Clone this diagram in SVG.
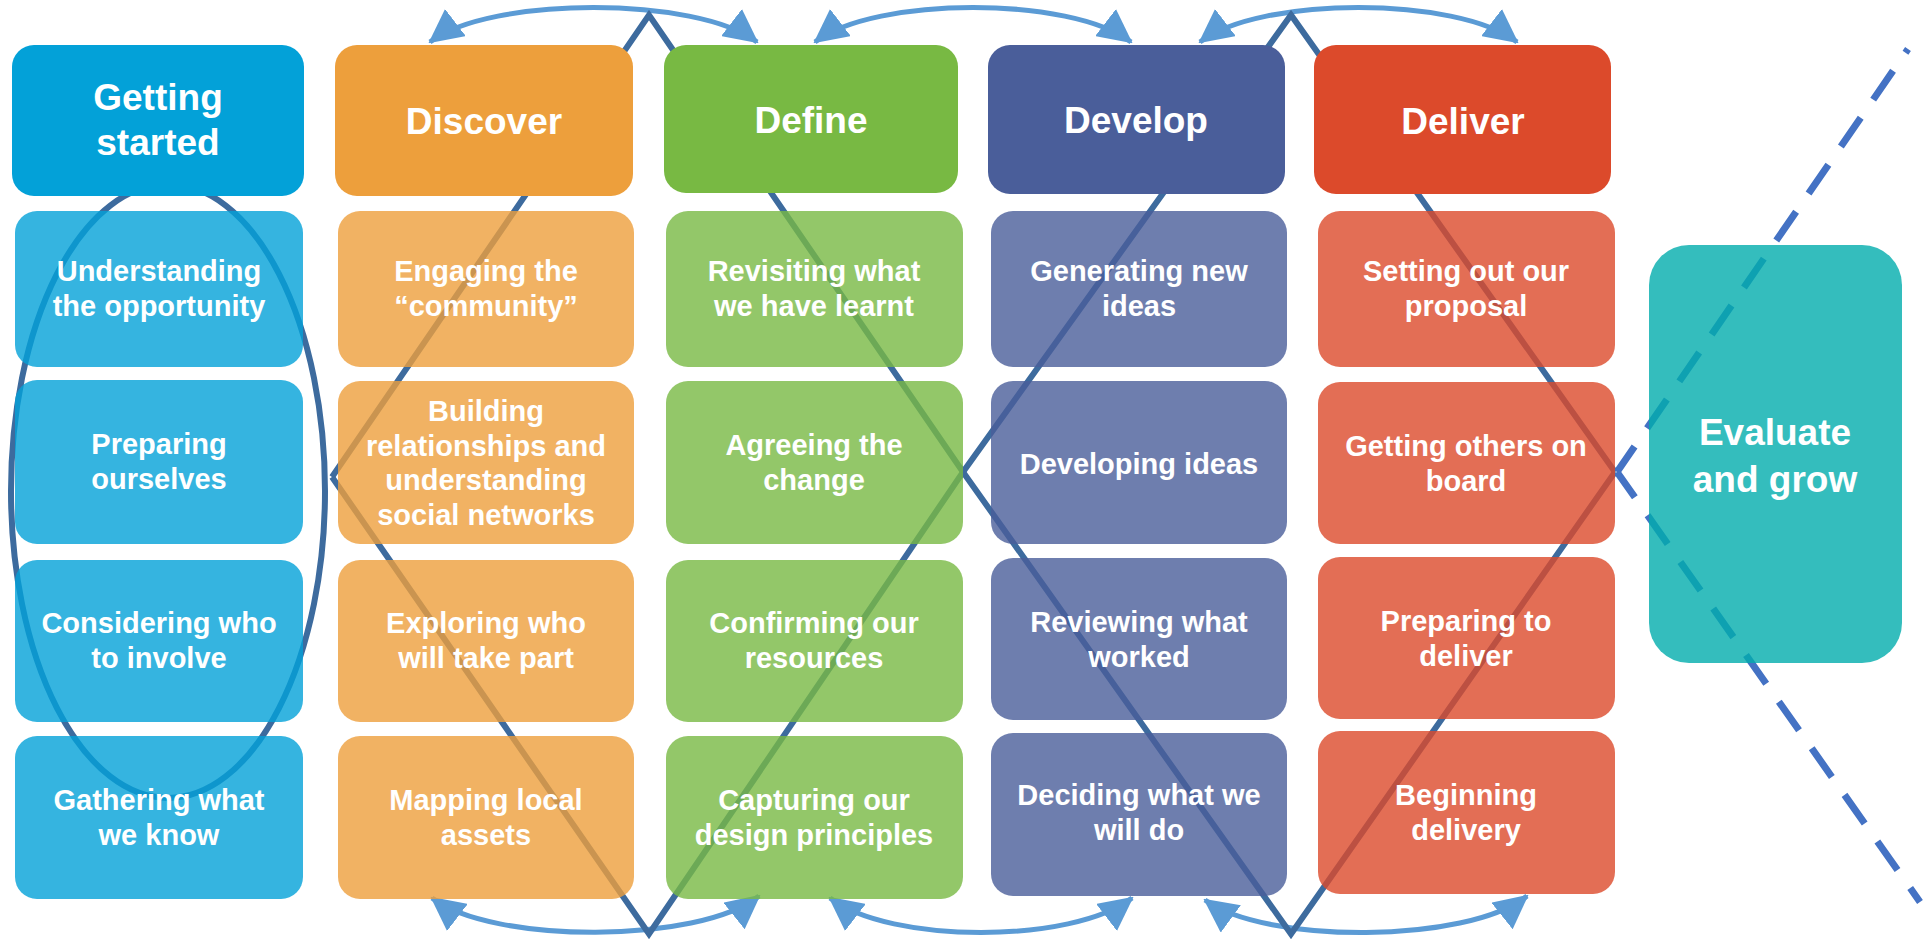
<svg xmlns="http://www.w3.org/2000/svg" width="1924" height="943" viewBox="0 0 1924 943">
<defs>
<marker id="ah" markerUnits="userSpaceOnUse" markerWidth="34" markerHeight="34" viewBox="0 0 34 34" refX="32" refY="17" orient="auto-start-reverse">
<path d="M0,0 L34,17 L0,34 z" fill="#5b9bd5"/>
</marker>
</defs>
<style>
.t{font-family:"Liberation Sans",Arial,sans-serif;font-weight:bold;fill:#ffffff;text-anchor:middle}
.s{font-size:29px}
.h{font-size:37px}
.arr{fill:none;stroke:#5b9bd5;stroke-width:5;marker-start:url(#ah);marker-end:url(#ah)}
.zz{fill:none;stroke:#3d6b9e;stroke-width:6;stroke-linejoin:miter}
.dash{fill:none;stroke:#4472c4;stroke-width:7;stroke-dasharray:35 22;stroke-dashoffset:4}
.gs{fill:#03a1d8}.ds{fill:#ed9f3c}.df{fill:#78b943}.dv{fill:#4a5e9a}.dl{fill:#dc4a2b}
.sub{opacity:0.8}
</style>
<rect width="1924" height="943" fill="#ffffff"/>
<g id="connectors">
<path class="arr" d="M430,42 C490,-4 697,-4 757,42"/>
<path class="arr" d="M815,42 C875,-4 1071,-4 1131,42"/>
<path class="arr" d="M1200,42 C1260,-4 1457,-4 1517,42"/>
<path class="arr" d="M432,898 C492,944 699,944 759,896"/>
<path class="arr" d="M830,898 C890,944 1072,944 1132,898"/>
<path class="arr" d="M1205,900 C1265,944 1467,944 1527,896"/>
<ellipse class="zz" cx="168" cy="491" rx="157" ry="307"/>
<polyline class="zz" points="332,477 649,15 963,472 1291,15 1615,472"/>
<polyline class="zz" points="332,477 649,934 963,472 1291,934 1615,472"/>
<polyline class="dash" points="1617,472 1908,49"/>
<polyline class="dash" points="1617,472 1920,902"/>
</g>
<g id="getting-started">
<rect class="gs" x="12" y="45" width="292" height="151" rx="22"/>
<text class="t h" x="158"><tspan x="158" y="110">Getting</tspan><tspan x="158" y="155">started</tspan></text>
</g>
<g id="understanding-opportunity">
<rect class="gs sub" x="15" y="211" width="288" height="156" rx="22"/>
<text class="t s"><tspan x="159" y="281">Understanding</tspan><tspan x="159" y="316">the opportunity</tspan></text>
</g>
<g id="preparing-ourselves">
<rect class="gs sub" x="15" y="380" width="288" height="164" rx="22"/>
<text class="t s"><tspan x="159" y="454">Preparing</tspan><tspan x="159" y="489">ourselves</tspan></text>
</g>
<g id="considering-who">
<rect class="gs sub" x="15" y="560" width="288" height="162" rx="22"/>
<text class="t s"><tspan x="159" y="633">Considering who</tspan><tspan x="159" y="668">to involve</tspan></text>
</g>
<g id="gathering">
<rect class="gs sub" x="15" y="736" width="288" height="163" rx="22"/>
<text class="t s"><tspan x="159" y="810">Gathering what</tspan><tspan x="159" y="845">we know</tspan></text>
</g>
<g id="discover">
<rect class="ds" x="335" y="45" width="298" height="151" rx="22"/>
<text class="t h" x="484" y="134">Discover</text>
</g>
<g id="engaging">
<rect class="ds sub" x="338" y="211" width="296" height="156" rx="22"/>
<text class="t s"><tspan x="486" y="281">Engaging the</tspan><tspan x="486" y="316">“community”</tspan></text>
</g>
<g id="building">
<rect class="ds sub" x="338" y="381" width="296" height="163" rx="22"/>
<text class="t s"><tspan x="486" y="421">Building</tspan><tspan x="486" y="456">relationships and</tspan><tspan x="486" y="490">understanding</tspan><tspan x="486" y="525">social networks</tspan></text>
</g>
<g id="exploring">
<rect class="ds sub" x="338" y="560" width="296" height="162" rx="22"/>
<text class="t s"><tspan x="486" y="633">Exploring who</tspan><tspan x="486" y="668">will take part</tspan></text>
</g>
<g id="mapping">
<rect class="ds sub" x="338" y="736" width="296" height="163" rx="22"/>
<text class="t s"><tspan x="486" y="810">Mapping local</tspan><tspan x="486" y="845">assets</tspan></text>
</g>
<g id="define">
<rect class="df" x="664" y="45" width="294" height="148" rx="22"/>
<text class="t h" x="811" y="133">Define</text>
</g>
<g id="revisiting">
<rect class="df sub" x="666" y="211" width="297" height="156" rx="22"/>
<text class="t s"><tspan x="814" y="281">Revisiting what</tspan><tspan x="814" y="316">we have learnt</tspan></text>
</g>
<g id="agreeing">
<rect class="df sub" x="666" y="381" width="297" height="163" rx="22"/>
<text class="t s"><tspan x="814" y="455">Agreeing the</tspan><tspan x="814" y="490">change</tspan></text>
</g>
<g id="confirming">
<rect class="df sub" x="666" y="560" width="297" height="162" rx="22"/>
<text class="t s"><tspan x="814" y="633">Confirming our</tspan><tspan x="814" y="668">resources</tspan></text>
</g>
<g id="capturing">
<rect class="df sub" x="666" y="736" width="297" height="163" rx="22"/>
<text class="t s"><tspan x="814" y="810">Capturing our</tspan><tspan x="814" y="845">design principles</tspan></text>
</g>
<g id="develop">
<rect class="dv" x="988" y="45" width="297" height="149" rx="22"/>
<text class="t h" x="1136" y="133">Develop</text>
</g>
<g id="generating">
<rect class="dv sub" x="991" y="211" width="296" height="156" rx="22"/>
<text class="t s"><tspan x="1139" y="281">Generating new</tspan><tspan x="1139" y="316">ideas</tspan></text>
</g>
<g id="developing-ideas">
<rect class="dv sub" x="991" y="381" width="296" height="163" rx="22"/>
<text class="t s" x="1139" y="474">Developing ideas</text>
</g>
<g id="reviewing">
<rect class="dv sub" x="991" y="558" width="296" height="162" rx="22"/>
<text class="t s"><tspan x="1139" y="632">Reviewing what</tspan><tspan x="1139" y="667">worked</tspan></text>
</g>
<g id="deciding">
<rect class="dv sub" x="991" y="733" width="296" height="163" rx="22"/>
<text class="t s"><tspan x="1139" y="805">Deciding what we</tspan><tspan x="1139" y="840">will do</tspan></text>
</g>
<g id="deliver">
<rect class="dl" x="1314" y="45" width="297" height="149" rx="22"/>
<text class="t h" x="1463" y="134">Deliver</text>
</g>
<g id="setting-out">
<rect class="dl sub" x="1318" y="211" width="297" height="156" rx="22"/>
<text class="t s"><tspan x="1466" y="281">Setting out our</tspan><tspan x="1466" y="316">proposal</tspan></text>
</g>
<g id="getting-others">
<rect class="dl sub" x="1318" y="382" width="297" height="162" rx="22"/>
<text class="t s"><tspan x="1466" y="456">Getting others on</tspan><tspan x="1466" y="491">board</tspan></text>
</g>
<g id="preparing-deliver">
<rect class="dl sub" x="1318" y="557" width="297" height="162" rx="22"/>
<text class="t s"><tspan x="1466" y="631">Preparing to</tspan><tspan x="1466" y="666">deliver</tspan></text>
</g>
<g id="beginning">
<rect class="dl sub" x="1318" y="731" width="297" height="163" rx="22"/>
<text class="t s"><tspan x="1466" y="805">Beginning</tspan><tspan x="1466" y="840">delivery</tspan></text>
</g>
<g id="evaluate">
<rect fill="#01acac" opacity="0.8" x="1649" y="245" width="253" height="418" rx="40"/>
<text class="t h"><tspan x="1775" y="445">Evaluate</tspan><tspan x="1775" y="492">and grow</tspan></text>
</g>
</svg>
